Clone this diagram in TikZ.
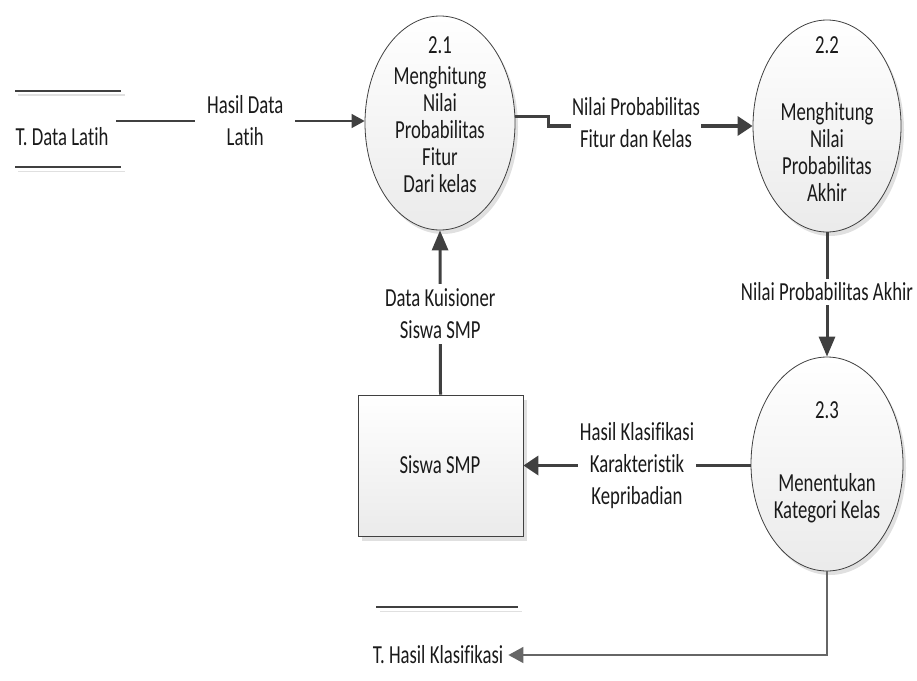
\documentclass[tikz,border=0pt]{standalone}
\usepackage{fontspec}
\setmainfont{Carlito}[FakeStretch=0.72,Ligatures=NoCommon]
\usetikzlibrary{shapes.geometric,arrows.meta,shadows}
\definecolor{ln}{HTML}{404040}
\definecolor{tx}{HTML}{1A1A1A}
\definecolor{shd}{HTML}{E0E0E0}
\begin{document}
\begin{tikzpicture}[x=1pt,y=-1pt,
  font=\fontsize{26}{27}\selectfont, text=tx,
  proc/.style={ellipse, draw=ln, line width=0.8pt, inner sep=0pt,
    top color=white, bottom color=black!8,
    drop shadow={shadow xshift=3pt,shadow yshift=-4pt,fill=shd,opacity=1}},
  ent/.style={rectangle, draw=ln, line width=0.8pt, inner sep=0pt,
    top color=white, bottom color=black!8,
    drop shadow={shadow xshift=4pt,shadow yshift=-5pt,fill=shd,opacity=1}},
  txt/.style={align=center, inner sep=0pt},
  lbl/.style={align=center, fill=white, font=\fontsize{26}{32}\selectfont},
  storeline/.style={draw=ln, line width=1.5pt},
  storeshadow/.style={draw=shd, line width=1.5pt},
  thinarr/.style={draw=ln, line width=1.4pt, -{Triangle[length=13pt,width=14pt]}},
  harr/.style={draw=ln, line width=3.5pt, -{Triangle[length=15pt,width=19pt]}},
  varr/.style={draw=ln, line width=3pt, -{Triangle[length=20pt,width=16pt]}},
  botarr/.style={draw=ln!80, line width=1.5pt, -{Triangle[length=15pt,width=16pt]}}
]
\useasboundingbox (0,0) rectangle (917,680);

% processes
\node[proc, minimum width=150pt, minimum height=214pt] (e21) at (440,123) {};
\node[proc, minimum width=148pt, minimum height=212pt] (e22) at (827,126) {};
\node[proc, minimum width=152pt, minimum height=214pt] (e23) at (827,464) {};
\node[ent, minimum width=165pt, minimum height=141pt] (smp) at (440.5,465.5) {};

% process texts
\node[txt] (n21) at (440,45) {2.1};
\node[txt] (t21) at (440,130) {Menghitung\\Nilai\\Probabilitas\\Fitur\\Dari kelas};
\node[txt] (n22) at (827,45) {2.2};
\node[txt] (t22) at (827,152) {Menghitung\\Nilai\\Probabilitas\\Akhir};
\node[txt] (n23) at (827,410) {2.3};
\node[txt] (t23) at (827,498) {Menentukan\\Kategori Kelas};
\node[txt] (tsmp) at (440,465) {Siswa SMP};

% data stores
\draw[storeshadow] (18,95) -- (125,95);
\draw[storeline] (15,91) -- (121,91);
\draw[storeshadow] (18,171.5) -- (125,171.5);
\draw[storeline] (15,167) -- (121,167);
\node[txt] (tdl) at (62,137) {T. Data Latih};

\draw[storeshadow] (380,611.5) -- (522,611.5);
\draw[storeline] (376,607) -- (518,607);
\node[txt, inner sep=5pt] (thk) at (438,655) {T. Hasil Klasifikasi};

% connectors
\coordinate (c1) at (116,121);
\draw[thinarr] (c1) -- (e21.west |- c1)
  node[lbl, inner xsep=12pt, pos=0.52] (l1) {Hasil Data\\Latih};
\draw[harr] (e21.5) -- ++(33,0) |- (e22.west);
\node[lbl, inner xsep=1pt] (l2) at (636,123) {Nilai Probabilitas\\Fitur dan Kelas};
\draw[varr] (e22.south) -- (e23.north)
  node[lbl, inner ysep=4pt, pos=0.48] (l3) {Nilai Probabilitas Akhir};
\draw[harr] (e23.west |- smp.east) -- (smp.east)
  node[lbl, inner xsep=2pt, pos=0.5] (l4) {Hasil Klasifikasi\\Karakteristik\\Kepribadian};
\draw[varr] (smp.north) -- (e21.south)
  node[lbl, inner ysep=5pt, pos=0.49] (l5) {Data Kuisioner\\Siswa SMP};
\draw[botarr] (e23.south) |- (thk.east);
\end{tikzpicture}
\end{document}
